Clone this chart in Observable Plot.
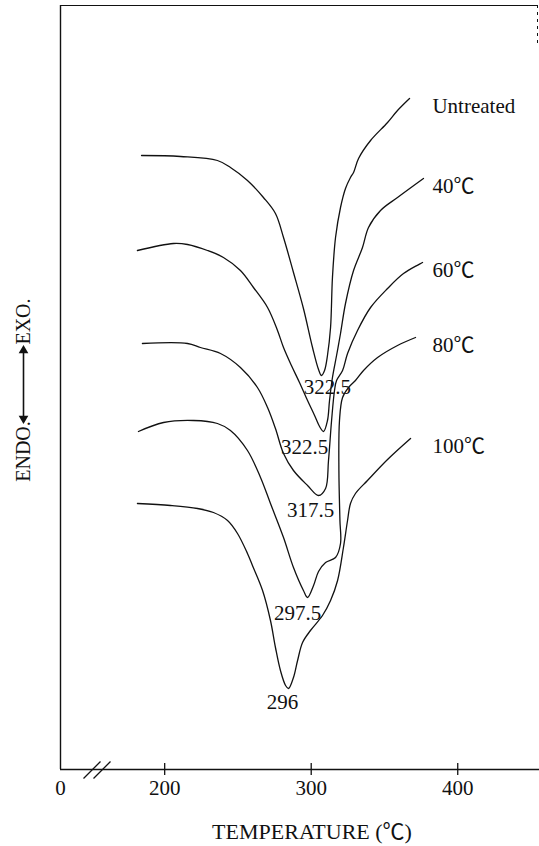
<!DOCTYPE html>
<html>
<head>
<meta charset="utf-8">
<script src="https://cdn.jsdelivr.net/npm/d3@7"></script>
<script src="https://cdn.jsdelivr.net/npm/@observablehq/plot@0.6"></script>
<style>
  html, body { margin: 0; padding: 0; background: #fff; }
  #chart svg { display: block; }
</style>
</head>
<body>
<div id="chart"></div>
<script>
// ---------- data ----------
const seriesNames = ["Untreated", "40℃", "60℃", "80℃", "100℃"];
const peakLabels  = ["322.5", "322.5", "317.5", "297.5", "296"];
const tickValues  = [200, 300, 400];
const breakTickLabel = "0";

// temperature (°C) and heat-flow signal (arbitrary units, exo up)
const untreatedT = [184.2, 210.8, 236.0, 244.9, 256.5, 267.4, 275.6, 281.1, 287.9, 294.7, 300.9, 305.0, 307.0, 309.1, 311.1, 313.2, 314.5, 316.6, 320.0, 323.4, 326.8, 328.9, 332.3, 340.5, 352.1, 358.9, 367.1];
const untreatedV = [61.4, 61.3, 60.9, 60.2, 58.9, 57.2, 55.6, 53.2, 49.7, 46.1, 42.2, 40.0, 39.4, 39.9, 41.4, 44.2, 49.2, 53.2, 56.2, 58.1, 59.2, 59.7, 61.1, 62.9, 64.7, 65.9, 67.1];

const t40T = [181.4, 206.0, 215.6, 229.2, 240.1, 251.7, 260.6, 270.2, 277.0, 281.1, 286.5, 292.0, 297.5, 302.3, 305.7, 308.4, 311.1, 312.5, 314.5, 317.3, 320.0, 323.4, 328.9, 335.0, 339.1, 347.3, 358.9, 376.6];
const t40V = [51.9, 52.6, 52.5, 51.9, 51.2, 49.9, 48.2, 46.2, 43.9, 42.2, 40.4, 38.7, 36.9, 35.4, 34.3, 33.8, 34.9, 36.9, 39.2, 41.4, 43.6, 46.6, 49.9, 52.2, 54.2, 55.9, 57.2, 59.1];

const t60T = [184.8, 215.6, 224.4, 238.1, 251.7, 263.3, 270.2, 275.6, 281.1, 287.9, 297.5, 305.0, 309.8, 311.8, 313.9, 315.9, 317.3, 321.4, 324.8, 331.6, 340.5, 352.1, 363.0, 376.0];
const t60V = [42.6, 42.6, 42.2, 41.6, 40.2, 38.2, 36.2, 34.1, 31.6, 29.9, 28.4, 27.4, 28.1, 30.9, 34.9, 37.9, 38.9, 39.9, 41.6, 43.9, 46.2, 48.1, 49.6, 50.7];

const t80T = [182.1, 199.2, 219.7, 236.0, 244.9, 256.5, 265.4, 272.2, 281.1, 287.9, 294.7, 297.5, 301.6, 305.0, 309.8, 316.6, 320.0, 319.6, 318.9, 319.3, 321.4, 325.5, 330.2, 335.7, 345.3, 358.9, 371.2];
const t80V = [33.8, 34.7, 34.9, 34.6, 33.9, 31.9, 29.2, 26.6, 23.2, 20.2, 17.9, 17.2, 18.4, 19.8, 20.7, 21.2, 22.6, 24.9, 29.9, 34.9, 37.2, 38.2, 38.9, 39.9, 41.2, 42.4, 43.2];

const t100T = [181.4, 204.0, 222.4, 233.3, 242.9, 249.7, 256.5, 259.9, 266.8, 272.2, 275.6, 279.0, 282.5, 284.5, 287.9, 290.7, 294.1, 299.5, 307.7, 313.2, 318.0, 322.0, 324.8, 326.8, 330.2, 338.4, 352.1, 367.8];
const t100V = [26.6, 26.4, 26.1, 25.7, 24.9, 23.6, 21.6, 20.4, 17.9, 14.9, 12.2, 9.9, 8.4, 8.1, 9.2, 10.9, 12.7, 13.9, 15.4, 16.9, 18.9, 22.2, 24.9, 26.6, 27.6, 28.9, 31.0, 33.1];

const xTitle = "TEMPERATURE (℃)";
const yTitleTop = "EXO.";
const yTitleBottom = "ENDO.";

// ---------- layout ----------
const W = 539, H = 846;
const mL = 60, mR = 0, mT = 5, mB = 77;
const xDomain = [128.9, 455.8];
const yDomain = [0, 76.4];
const xPerPx = (xDomain[1] - xDomain[0]) / (W - mL - mR);
const yPerPx = (yDomain[1] - yDomain[0]) / (H - mT - mB);
const pxX = px => xDomain[0] + (px - mL) * xPerPx;
const pxY = py => yDomain[0] + (H - mB - py) * yPerPx;

const temps = [untreatedT, t40T, t60T, t80T, t100T];
const signals = [untreatedV, t40V, t60V, t80V, t100V];
const rows = seriesNames.flatMap((s, i) => temps[i].map((t, j) => ({series: s, T: t, v: signals[i][j]})));
const ends = seriesNames.map((s, i) => ({series: s, T: temps[i].at(-1), v: signals[i].at(-1)}));
const minima = seriesNames.map((s, i) => {
  const j = d3.minIndex(signals[i]);
  return {series: s, label: peakLabels[i], T: temps[i][j], v: signals[i][j]};
});
const labelX = d3.max(ends, d => d.T) + 9 * xPerPx;
const peakOffsets = [[6, 12], [-19, 16], [-8, 15], [-10, 16], [-6, 14]];

const ink = "#111";
const fontFamily = '"Liberation Serif", "Times New Roman", "Noto Sans CJK SC", serif';
const yLabelX = pxX(23);

const chart = Plot.plot({
  width: W, height: H,
  marginLeft: mL, marginRight: mR, marginTop: mT, marginBottom: mB,
  style: {fontFamily, fontSize: "21px", color: ink, background: "#fff"},
  x: {domain: xDomain},
  y: {domain: yDomain, axis: null},
  marks: [
    // frame
    Plot.ruleY([yDomain[0]], {stroke: ink, strokeWidth: 1.4}),
    Plot.ruleX([xDomain[0]], {stroke: ink, strokeWidth: 1.4}),
    Plot.ruleY([yDomain[1]], {x1: xDomain[0], x2: pxX(537), stroke: ink, strokeWidth: 1.2}),
    Plot.ruleX([pxX(537)], {y1: yDomain[1], y2: pxY(45), stroke: ink, strokeWidth: 1, strokeDasharray: "3,4"}),
    // axis break
    Plot.link([{x1: pxX(83), y1: pxY(778), x2: pxX(100), y2: pxY(761)},
               {x1: pxX(93), y1: pxY(778), x2: pxX(110), y2: pxY(761)}],
      {x1: "x1", y1: "y1", x2: "x2", y2: "y2", stroke: ink, strokeWidth: 1.3}),
    // ticks crossing the axis
    Plot.ruleX(tickValues, {y1: pxY(775), y2: pxY(763), stroke: ink, strokeWidth: 1.3}),
    Plot.axisX([xDomain[0], ...tickValues], {
      tickSize: 0, tickPadding: 11, label: null, fontSize: 21,
      tickFormat: d => d === xDomain[0] ? breakTickLabel : String(d)
    }),
    // curves
    Plot.line(rows, {x: "T", y: "v", z: "series", stroke: ink, strokeWidth: 1.3, curve: "catmull-rom"}),
    // series labels
    Plot.text(ends, {x: () => labelX, y: "v", text: "series", textAnchor: "start", dy: 8, fontSize: 21, fill: ink}),
    // peak temperatures
    ...minima.map((d, i) => Plot.text([d], {
      x: "T", y: "v", text: "label", dx: peakOffsets[i][0], dy: peakOffsets[i][1], fontSize: 21, fill: ink
    })),
    // axis titles
    Plot.text([xTitle], {frameAnchor: "bottom", dx: 12, dy: 69, fontSize: 22, fill: ink}),
    Plot.text([yTitleTop], {x: () => yLabelX, y: () => pxY(321), rotate: -90, fontSize: 20, fill: ink}),
    Plot.text([yTitleBottom], {x: () => yLabelX, y: () => pxY(451), rotate: -90, fontSize: 20, fill: ink}),
    Plot.ruleX([yLabelX], {y1: pxY(352), y2: pxY(416), stroke: ink, strokeWidth: 1.6}),
    Plot.dot([{y: pxY(350), a: 0}, {y: pxY(418), a: 180}], {
      x: () => yLabelX, y: "y", rotate: "a", symbol: "triangle", r: 3.6, fill: ink, stroke: "none"
    })
  ]
});
document.getElementById("chart").appendChild(chart);
</script>
</body>
</html>
